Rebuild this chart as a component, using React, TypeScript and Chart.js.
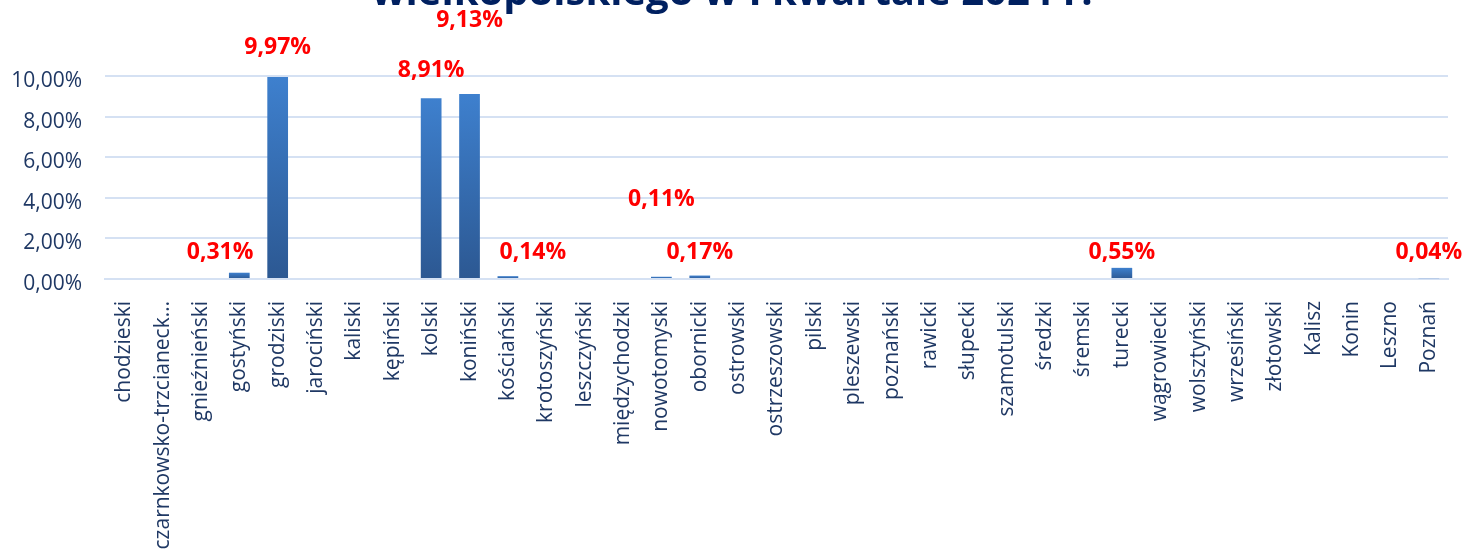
import React, { useEffect, useRef } from 'react';
import { Chart, registerables } from 'chart.js';

Chart.register(...registerables);

const titleText = 'wielkopolskiego w I kwartale 2024 r.';

const categories = [
  'chodzieski', 'czarnkowsko-trzcianecki', 'gnieźnieński', 'gostyński', 'grodziski',
  'jarociński', 'kaliski', 'kępiński', 'kolski', 'koniński', 'kościański', 'krotoszyński',
  'leszczyński', 'międzychodzki', 'nowotomyski', 'obornicki', 'ostrowski', 'ostrzeszowski',
  'pilski', 'pleszewski', 'poznański', 'rawicki', 'słupecki', 'szamotulski', 'średzki',
  'śremski', 'turecki', 'wągrowiecki', 'wolsztyński', 'wrzesiński', 'złotowski',
  'Kalisz', 'Konin', 'Leszno', 'Poznań',
];

// values in percent
const values = [
  0, 0, 0, 0.31, 9.97,
  0, 0, 0, 8.91, 9.13, 0.14, 0,
  0, 0, 0.11, 0.17, 0, 0,
  0, 0, 0, 0, 0, 0, 0,
  0, 0.55, 0, 0, 0, 0,
  0, 0, 0, 0.04,
];

const yTickValues = [0, 2, 4, 6, 8, 10];

// manual label placement (as in the source chart): [shift in categories, height in value units]
const labelPlacement: Record<number, [number, number]> = {
  3: [-0.5, 1.33],
  4: [0, 11.44],
  8: [0, 10.3],
  9: [0, 12.76],
  10: [0.65, 1.33],
  14: [0, 3.93],
  15: [0, 1.33],
  26: [0, 1.33],
  34: [0, 1.33],
};

const fmt = (v: number) => v.toFixed(2).replace('.', ',') + '%';

const CANVAS_H = 640;
const AREA_TOP = 56;
const AREA_BOTTOM = 279;
const AREA_LEFT = 105;
const RIGHT_PAD = 16;

const titlePlugin = {
  id: 'cutTitle',
  afterDraw(chart: any) {
    const c = chart.ctx;
    c.save();
    c.font = 'bold 40px "Open Sans"';
    c.fillStyle = '#002060';
    c.textAlign = 'center';
    c.textBaseline = 'alphabetic';
    c.fillText(titleText, chart.width / 2, 5);
    c.restore();
  },
};

const labelPlugin = {
  id: 'placedLabels',
  afterDatasetsDraw(chart: any) {
    const c = chart.ctx;
    const xs = chart.scales.x;
    const ys = chart.scales.y;
    const cw = xs.width / categories.length;
    c.save();
    c.font = 'bold 23px "Open Sans"';
    c.fillStyle = '#FF0000';
    c.textAlign = 'center';
    c.textBaseline = 'middle';
    Object.keys(labelPlacement).forEach((k) => {
      const i = Number(k);
      const [dx, yv] = labelPlacement[i];
      const x = xs.getPixelForValue(i) + dx * cw;
      const y = ys.getPixelForValue(yv);
      c.fillText(fmt(values[i]), x, y);
    });
    c.restore();
  },
};

export default function App() {
  const ref = useRef<HTMLCanvasElement | null>(null);

  useEffect(() => {
    if (!ref.current) return;
    const chart = new Chart(ref.current, {
      type: 'bar',
      data: {
        labels: categories,
        datasets: [
          {
            data: values,
            barPercentage: 0.54,
            categoryPercentage: 1,
            backgroundColor: (ctx: any) => {
              const ch = ctx.chart;
              const ys = ch.scales && ch.scales.y;
              if (!ch.chartArea || !ys) return '#3A75C0';
              const v = typeof ctx.raw === 'number' ? ctx.raw : 0;
              const yTop = ys.getPixelForValue(v);
              const yBot = ys.getPixelForValue(0);
              if (!isFinite(yTop) || !isFinite(yBot) || yBot - yTop < 1) return '#3A75C0';
              const g = ch.ctx.createLinearGradient(0, yTop, 0, yBot);
              g.addColorStop(0, '#3E80CE');
              g.addColorStop(1, '#2C5892');
              return g;
            },
            borderWidth: 0,
          },
        ],
      },
      options: {
        animation: false,
        responsive: true,
        maintainAspectRatio: false,
        layout: { padding: { top: AREA_TOP, left: 0, right: RIGHT_PAD, bottom: 0 } },
        plugins: {
          legend: { display: false },
          title: { display: false },
          tooltip: { enabled: false },
        },
        scales: {
          x: {
            grid: { display: false, drawTicks: false },
            border: { display: true, color: '#D5E1F3', width: 2 },
            ticks: {
              autoSkip: false,
              maxRotation: 90,
              minRotation: 90,
              padding: 22,
              color: '#1F3864',
              font: { family: '"Open Sans"', size: 21 },
              callback: (_v: any, i: number) => {
                const l = categories[i];
                return l.length > 22 ? l.slice(0, 22) + '…' : l;
              },
            },
            afterFit: (s: any) => {
              s.height = CANVAS_H - AREA_BOTTOM;
              s.paddingLeft = 0;
              s.paddingRight = 0;
            },
          },
          y: {
            min: 0,
            max: 11,
            grid: { color: '#D5E1F3', lineWidth: 2, drawTicks: false },
            border: { display: false },
            ticks: {
              stepSize: 1,
              padding: 23,
              labelOffset: 5,
              color: '#1F3864',
              font: { family: '"Open Sans"', size: 21 },
              callback: (v: any) => (yTickValues.includes(Number(v)) ? fmt(Number(v)) : ''),
            },
            afterFit: (s: any) => {
              s.width = AREA_LEFT;
            },
          },
        },
      },
      plugins: [labelPlugin, titlePlugin],
    });
    return () => chart.destroy();
  }, []);

  return (
    <div style={{ position: 'fixed', left: 0, top: 0, width: 1464, height: 549, overflow: 'hidden', background: '#fff' }}>
      <div style={{ position: 'relative', width: 1464, height: CANVAS_H }}>
        <canvas ref={ref} />
      </div>
    </div>
  );
}
